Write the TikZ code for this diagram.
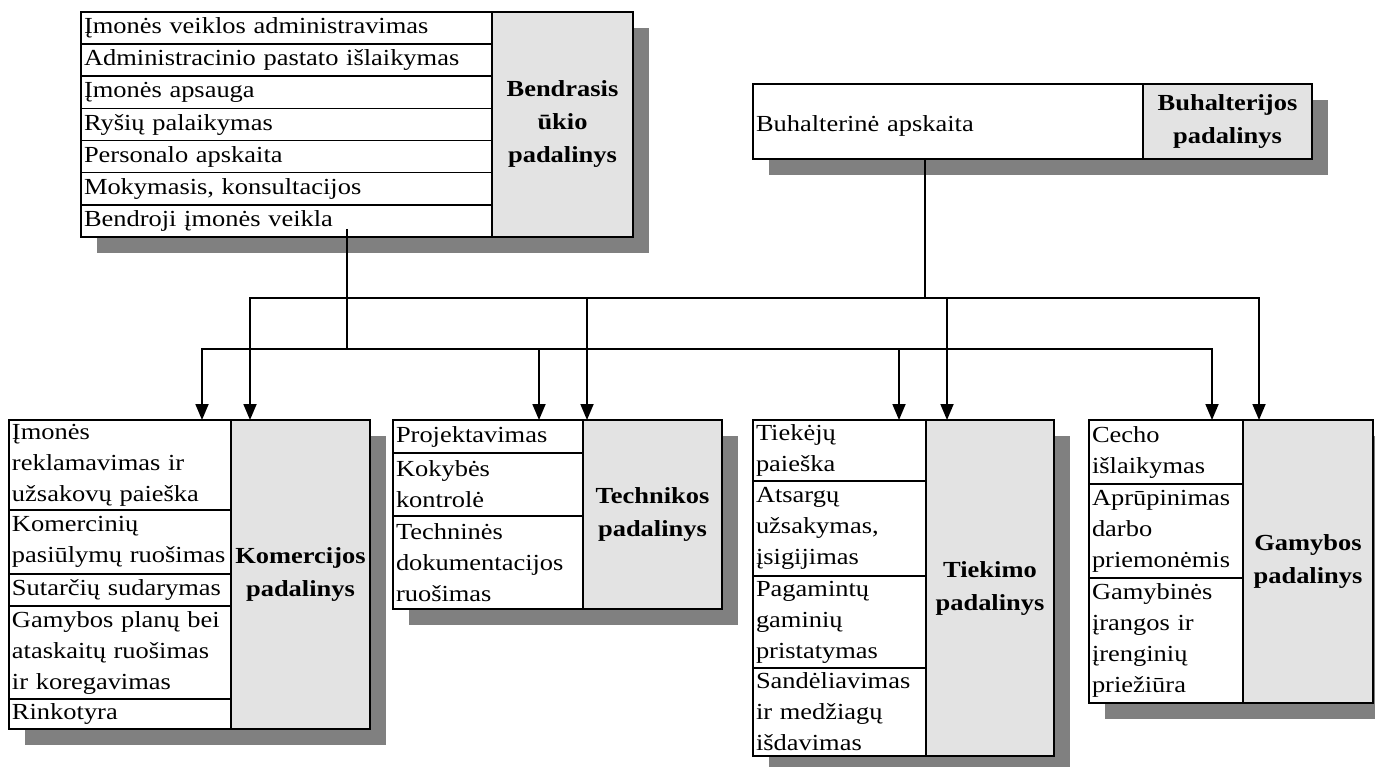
\documentclass[tikz,border=0pt]{standalone}
\usepackage{fontspec}
\setmainfont{Liberation Serif}[FakeStretch=1.15]
\usepackage{tikz}
\usetikzlibrary{positioning, calc, arrows.meta, backgrounds}

\begin{document}
\begin{tikzpicture}[
    x=1pt, y=-1pt,
    >={Triangle[length=16pt, width=13pt]},
    font=\fontsize{23}{31}\selectfont,
    item/.style={rectangle, draw, line width=1.6pt, fill=white, anchor=north west, outer sep=0pt, inner xsep=3pt, inner ysep=0pt, align=left},
    unitbox/.style={rectangle, draw, line width=1.6pt, fill=black!11, anchor=north west, outer sep=0pt, align=center, font=\fontsize{23}{33}\selectfont\bfseries},
    bendrrow/.style={item, text width=405pt, minimum height=32.14pt},
    komerrow/.style={item, text width=216pt},
    technrow/.style={item, text width=184pt},
    tiekrow/.style={item, text width=167pt},
    gamybrow/.style={item, text width=148pt},
    frame/.style={line width=2pt},
    boxshadow/.style={fill=black!50},
    link/.style={line width=1.8pt}
]
    \useasboundingbox (0,0) rectangle (1375,767);

    % --- 1. Top units ---
    \node (bendr_1) [bendrrow] at (81,12) {Įmonės veiklos administravimas};
    \node (bendr_2) [bendrrow, below=0pt of bendr_1] {Administracinio pastato išlaikymas};
    \node (bendr_3) [bendrrow, below=0pt of bendr_2] {Įmonės apsauga};
    \node (bendr_4) [bendrrow, below=0pt of bendr_3] {Ryšių palaikymas};
    \node (bendr_5) [bendrrow, below=0pt of bendr_4] {Personalo apskaita};
    \node (bendr_6) [bendrrow, below=0pt of bendr_5] {Mokymasis, konsultacijos};
    \node (bendr_7) [bendrrow, below=0pt of bendr_6] {Bendroji įmonės veikla};
    \node (bendr_lbl) [unitbox, minimum width=141pt, minimum height=225pt] at (bendr_1.north east) {Bendrasis\\ūkio\\padalinys};
    \draw[frame] (bendr_1.north west) rectangle (bendr_lbl.south east);

    \node (buh_1) [item, text width=384pt, minimum height=75pt, text height=24pt] at (753,84) {Buhalterinė apskaita};
    \node (buh_lbl) [unitbox, minimum width=169pt, minimum height=75pt] at (buh_1.north east) {Buhalterijos\\padalinys};
    \draw[frame] (buh_1.north west) rectangle (buh_lbl.south east);

    % --- 2. Bottom units ---
    \node (komer_1) [komerrow, minimum height=90pt] at (9,420) {Įmonės\\reklamavimas ir\\užsakovų paieška};
    \node (komer_2) [komerrow, minimum height=64pt, below=0pt of komer_1] {Komercinių\\pasiūlymų ruošimas};
    \node (komer_3) [komerrow, minimum height=32pt, below=0pt of komer_2] {Sutarčių sudarymas};
    \node (komer_4) [komerrow, minimum height=93pt, below=0pt of komer_3] {Gamybos planų bei\\ataskaitų ruošimas\\ir koregavimas};
    \node (komer_5) [komerrow, minimum height=30pt, below=0pt of komer_4] {Rinkotyra};
    \node (komer_lbl) [unitbox, minimum width=139pt, minimum height=309pt] at (komer_1.north east) {Komercijos\\padalinys};
    \draw[frame] (komer_1.north west) rectangle (komer_lbl.south east);

    \node (techn_1) [technrow, minimum height=33pt] at (393,420) {Projektavimas};
    \node (techn_2) [technrow, minimum height=63pt, below=0pt of techn_1] {Kokybės\\kontrolė};
    \node (techn_3) [technrow, minimum height=93pt, below=0pt of techn_2] {Techninės\\dokumentacijos\\ruošimas};
    \node (techn_lbl) [unitbox, minimum width=139pt, minimum height=189pt] at (techn_1.north east) {Technikos\\padalinys};
    \draw[frame] (techn_1.north west) rectangle (techn_lbl.south east);

    \node (tiek_1) [tiekrow, minimum height=61pt] at (753,420) {Tiekėjų\\paieška};
    \node (tiek_2) [tiekrow, minimum height=95pt, below=0pt of tiek_1] {Atsargų\\užsakymas,\\įsigijimas};
    \node (tiek_3) [tiekrow, minimum height=92pt, below=0pt of tiek_2] {Pagamintų\\gaminių\\pristatymas};
    \node (tiek_4) [tiekrow, minimum height=88pt, below=0pt of tiek_3] {Sandėliavimas\\ir medžiagų\\išdavimas};
    \node (tiek_lbl) [unitbox, minimum width=128pt, minimum height=336pt] at (tiek_1.north east) {Tiekimo\\padalinys};
    \draw[frame] (tiek_1.north west) rectangle (tiek_lbl.south east);

    \node (gamyb_1) [gamybrow, minimum height=64pt] at (1089,420) {Cecho\\išlaikymas};
    \node (gamyb_2) [gamybrow, minimum height=94pt, below=0pt of gamyb_1] {Aprūpinimas\\darbo\\priemonėmis};
    \node (gamyb_3) [gamybrow, minimum height=125pt, below=0pt of gamyb_2] {Gamybinės\\įrangos ir\\įrenginių\\priežiūra};
    \node (gamyb_lbl) [unitbox, minimum width=130pt, minimum height=283pt] at (gamyb_1.north east) {Gamybos\\padalinys};
    \draw[frame] (gamyb_1.north west) rectangle (gamyb_lbl.south east);

    % --- 3. Shadows behind the units ---
    \begin{pgfonlayer}{background}
        \fill[white] (0,0) rectangle (1375,767);
        \fill[boxshadow] ($(bendr_1.north west)+(16,16)$) rectangle ($(bendr_lbl.south east)+(16,16)$);
        \fill[boxshadow] ($(buh_1.north west)+(16,16)$) rectangle ($(buh_lbl.south east)+(16,16)$);
        \fill[boxshadow] ($(komer_1.north west)+(16,16)$) rectangle ($(komer_lbl.south east)+(16,16)$);
        \fill[boxshadow] ($(techn_1.north west)+(16,16)$) rectangle ($(techn_lbl.south east)+(16,16)$);
        \fill[boxshadow] ($(tiek_1.north west)+(16,16)$) rectangle ($(tiek_lbl.south east)+(16,16)$);
        \fill[boxshadow] ($(gamyb_1.north west)+(16,16)$) rectangle ($(gamyb_lbl.south east)+(16,16)$);
    \end{pgfonlayer}

    % --- 4. Connectors ---
    \coordinate (bendr_out) at (347,229);
    \coordinate (low_bus) at (347,349);
    \coordinate (buh_out) at (925,159);
    \coordinate (high_bus) at (925,298);
    \coordinate (komer_in_a) at ($(komer_1.north west)+(193,0)$);
    \coordinate (komer_in_b) at ($(komer_1.north west)+(241,0)$);
    \coordinate (techn_in_a) at ($(techn_1.north west)+(146,0)$);
    \coordinate (techn_in_b) at ($(techn_1.north west)+(194,0)$);
    \coordinate (tiek_in_a) at ($(tiek_1.north west)+(146,0)$);
    \coordinate (tiek_in_b) at ($(tiek_1.north west)+(194,0)$);
    \coordinate (gamyb_in_a) at ($(gamyb_1.north west)+(123,0)$);
    \coordinate (gamyb_in_b) at ($(gamyb_1.north west)+(170,0)$);

    % Bendrasis ukio padalinys -> all units
    \draw[link] (bendr_out) -- (low_bus);
    \draw[link, ->] (low_bus) -| (komer_in_a);
    \draw[link, ->] (low_bus) -| (techn_in_a);
    \draw[link, ->] (low_bus) -| (tiek_in_a);
    \draw[link, ->] (low_bus) -| (gamyb_in_a);
    % Buhalterijos padalinys -> all units
    \draw[link] (buh_out) -- (high_bus);
    \draw[link, ->] (high_bus) -| (komer_in_b);
    \draw[link, ->] (high_bus) -| (techn_in_b);
    \draw[link, ->] (high_bus) -| (tiek_in_b);
    \draw[link, ->] (high_bus) -| (gamyb_in_b);
\end{tikzpicture}
\end{document}
